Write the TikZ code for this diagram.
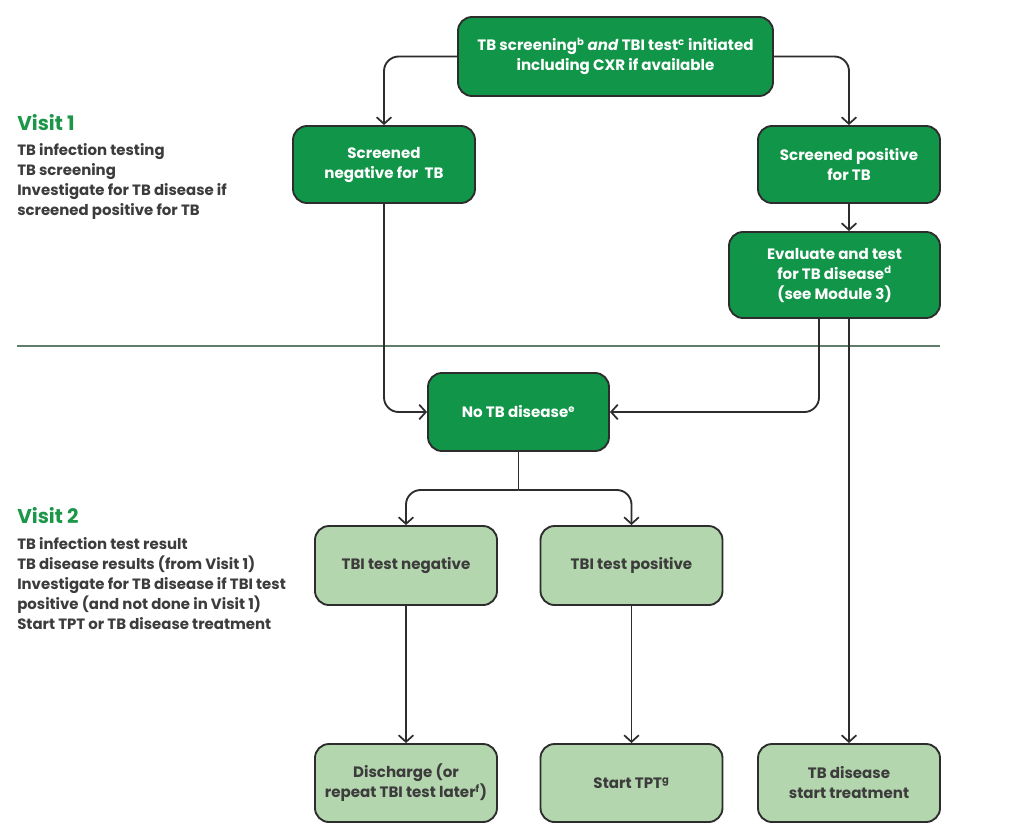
\documentclass[tikz,border=0pt]{standalone}
\usepackage{fontspec}
\setmainfont{Poppins}
\usetikzlibrary{arrows.meta}
\definecolor{dkgreen}{RGB}{17,149,72}
\definecolor{ltgreen}{RGB}{180,214,174}
\definecolor{bordergray}{RGB}{45,45,45}
\definecolor{txtgray}{RGB}{60,60,60}
\definecolor{visitgreen}{RGB}{28,150,72}
\definecolor{sepcolor}{RGB}{95,125,105}
\newcommand{\sps}[1]{\textsuperscript{\fontsize{7.5}{7.5}\selectfont #1}}
\tikzset{
  boxbase/.style={draw=bordergray, line width=1.4pt, rounded corners=10.5pt, inner sep=0pt, align=center,
    font=\fontsize{11.3}{15}\selectfont\bfseries},
  dkbox/.style={boxbase, fill=dkgreen, text=white},
  ltbox/.style={boxbase, fill=ltgreen, text=txtgray},
  conn/.style={draw=bordergray, line width=1.4pt, rounded corners=11pt, -{Straight Barb[length=5pt,width=11pt,line width=1.3pt]}},
  plainconn/.style={draw=bordergray, line width=1.4pt, rounded corners=11pt},
  heading/.style={anchor=north west, inner sep=0pt, text=visitgreen, font=\fontsize{15}{18}\selectfont\bfseries},
  sidetext/.style={anchor=north west, inner sep=0pt, align=left, text=txtgray, font=\fontsize{11.2}{15}\selectfont\bfseries},
}
\begin{document}
\begin{tikzpicture}[x=0.75pt,y=-0.75pt]
\useasboundingbox (0,0) rectangle (1024,833);
\fill[white] (0,0) rectangle (1024,833);

% boxes
\node[dkbox, minimum width=236.25pt, minimum height=59.25pt] (top) at (615.5,56.5)
  {TB screening\sps{b} \textit{and} TBI test\sps{c} initiated\\including CXR if available};
\node[dkbox, minimum width=136.5pt, minimum height=57.75pt] (sneg) at (384,164.5)
  {Screened\\negative for~ TB};
\node[dkbox, minimum width=136.5pt, minimum height=57.75pt] (spos) at (849,164.5)
  {Screened positive\\for TB};
\node[dkbox, minimum width=158.25pt, minimum height=64.5pt] (eval) at (834.5,275)
  {Evaluate and test\\for TB disease\sps{d}\\(see Module 3)};
\node[dkbox, minimum width=135.75pt, minimum height=58.5pt] (notb) at (518.5,412)
  {No TB disease\sps{e}};
\node[ltbox, minimum width=136.5pt, minimum height=59.25pt] (tneg) at (406,565.5)
  {TBI test negative};
\node[ltbox, minimum width=136.5pt, minimum height=59.25pt] (tpos) at (631.5,565.5)
  {TBI test positive};
\node[ltbox, minimum width=136.5pt, minimum height=58.5pt] (disc) at (406,783)
  {Discharge (or\\repeat TBI test later\sps{f})};
\node[ltbox, minimum width=136.5pt, minimum height=58.5pt] (stpt) at (631.5,783)
  {Start TPT\sps{g}};
\node[ltbox, minimum width=136.5pt, minimum height=58.5pt] (tbd) at (849,783)
  {TB disease\\start treatment};

% side texts
\node[heading] (v1) at (17,114) {Visit 1};
\node[sidetext] (v1t) at (17,143) {TB infection testing\\TB screening\\Investigate for TB disease if\\screened positive for TB};
\node[heading] (v2) at (17,507) {Visit 2};
\node[sidetext] (v2t) at (17,537) {TB infection test result\\TB disease results (from Visit 1)\\Investigate for TB disease if TBI test\\positive (and not done in Visit 1)\\Start TPT or TB disease treatment};

% separator
\coordinate (sepL) at (17,346);
\coordinate (sepR) at (940,346);
\draw[sepcolor, line width=1.1pt] (sepL) -- (sepR);

% connectors
\coordinate (x819) at (819,0);
\coordinate (split) at (518.5,490);
\draw[conn] (top.west) -| (sneg.north);
\draw[conn] (top.east) -| (spos.north);
\draw[conn] (spos.south) -- (spos.south |- eval.north);
\draw[conn] (sneg.south) |- (notb.west);
\draw[conn] (eval.south -| x819) |- (notb.east);
\draw[conn] (tbd.north |- eval.south) -- (tbd.north);
\draw[plainconn] (notb.south) -- (split);
\draw[conn] (split) -| (tneg.north);
\draw[conn] (split) -| (tpos.north);
\draw[conn] (tneg.south) -- (disc.north);
\draw[conn] (tpos.south) -- (stpt.north);
\end{tikzpicture}
\end{document}
